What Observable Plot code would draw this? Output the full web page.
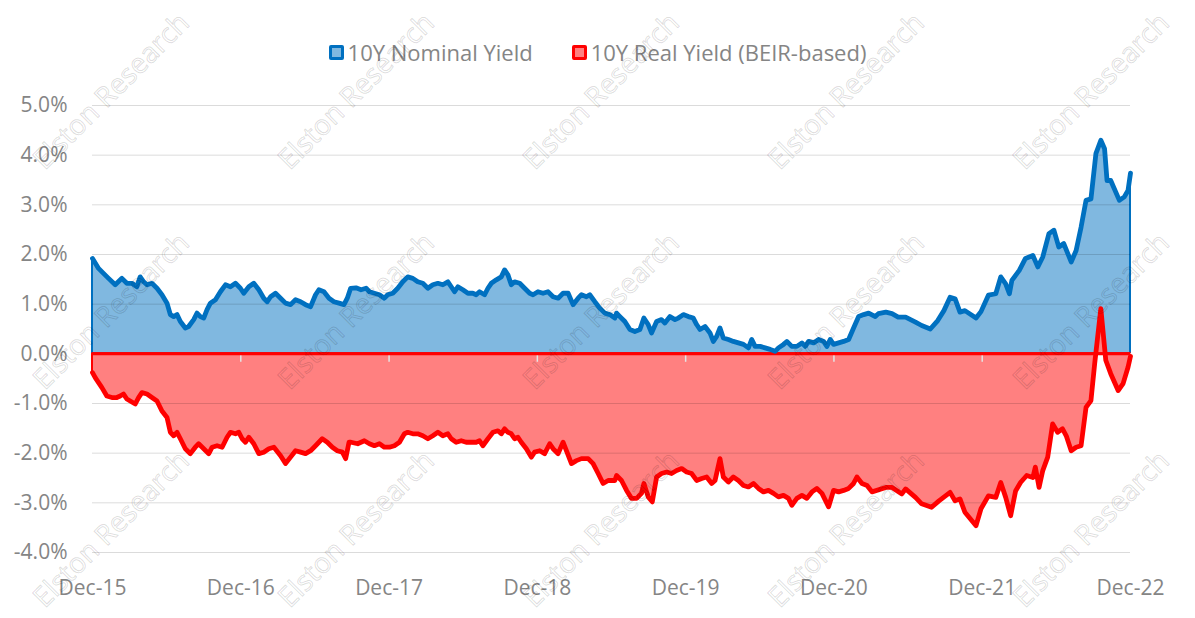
<!DOCTYPE html>
<html>
<head>
<meta charset="utf-8">
<script src="https://cdn.jsdelivr.net/npm/d3@7"></script>
<script src="https://cdn.jsdelivr.net/npm/@observablehq/plot@0.6"></script>
<style>
  html, body { margin: 0; padding: 0; background: #fff; }
  #wrap { position: relative; width: 1195px; height: 618px; overflow: hidden; font-family: "Open Sans", sans-serif; }
  #legend { position: absolute; top: 37px; left: 0; width: 1195px; height: 30px; display: flex; justify-content: center; align-items: center; gap: 39px; color: #858585; font-size: 22px; }
  .item { display: flex; align-items: center; }
  .sw { width: 9px; height: 9px; border: 3px solid; border-radius: 2px; margin-right: 4px; }
  #chart { position: absolute; top: 80px; left: 0; }
  #wm { position: absolute; top: 0; left: 0; width: 1195px; height: 618px; pointer-events: none; }
  .wmt { position: absolute; white-space: nowrap; font-size: 28px; color: transparent; -webkit-text-stroke: 1px rgba(0,0,0,0.14); transform: translate(-50%, -50%) rotate(-45deg); }
</style>
</head>
<body>
<div id="wrap">
  <div id="legend"></div>
  <div id="chart"></div>
  <div id="wm"></div>
</div>
<script>
// x = months since Dec-15, y = yield in %
const tickMonths = [0, 12, 24, 36, 48, 60, 72, 84];
const tickLabels = ["Dec-15", "Dec-16", "Dec-17", "Dec-18", "Dec-19", "Dec-20", "Dec-21", "Dec-22"];
const yTicks = [-4, -3, -2, -1, 0, 1, 2, 3, 4, 5];
const seriesNames = ["10Y Nominal Yield", "10Y Real Yield (BEIR-based)"];

const nominalYield = [
  [0,1.92],[0.49,1.72],[0.89,1.62],[1.30,1.52],[1.84,1.39],[2.38,1.52],[2.78,1.42],[3.19,1.42],[3.59,1.35],[3.86,1.55],
  [4.14,1.45],[4.41,1.39],[4.81,1.42],[5.22,1.32],[5.62,1.19],[6.03,1.02],[6.30,0.79],[6.57,0.75],[6.84,0.79],[7.11,0.65],
  [7.51,0.52],[7.78,0.55],[8.19,0.69],[8.46,0.82],[8.73,0.75],[9.0,0.72],[9.27,0.89],[9.54,1.02],[9.95,1.09],[10.35,1.25],
  [10.76,1.39],[11.16,1.35],[11.57,1.42],[11.97,1.32],[12.24,1.22],[12.65,1.35],[13.05,1.42],[13.46,1.29],[13.86,1.12],[14.14,1.05],
  [14.41,1.15],[14.81,1.22],[15.22,1.12],[15.62,1.02],[16.03,0.99],[16.43,1.09],[16.84,1.05],[17.24,0.99],[17.65,0.95],[18.05,1.19],
  [18.32,1.29],[18.73,1.25],[19.14,1.12],[19.54,1.05],[19.95,1.02],[20.35,0.99],[20.62,1.12],[20.89,1.32],
  [21.32,1.33],[21.73,1.29],[22.14,1.32],[22.41,1.25],[22.81,1.22],[23.22,1.19],[23.62,1.12],[23.89,1.19],[24.30,1.22],[24.70,1.32],
  [25.11,1.45],[25.51,1.55],[25.92,1.52],[26.32,1.45],[26.73,1.42],[27.14,1.32],[27.54,1.39],[27.95,1.42],[28.35,1.39],[28.76,1.45],
  [29.03,1.35],[29.30,1.25],[29.57,1.35],[29.97,1.29],[30.38,1.22],[30.78,1.22],[31.05,1.19],[31.32,1.25],[31.73,1.19],[32.0,1.32],
  [32.27,1.42],[32.68,1.49],[33.08,1.55],[33.35,1.69],[33.62,1.59],[33.89,1.39],[34.16,1.45],[34.57,1.42],[34.97,1.32],[35.38,1.22],
  [35.65,1.19],[36.05,1.25],[36.46,1.22],[36.86,1.25],[37.27,1.15],[37.68,1.12],[38.08,1.22],[38.49,1.22],[38.89,0.99],[39.30,1.12],
  [39.57,1.19],[39.97,1.15],[40.24,1.19],[40.65,1.05],[41.05,0.92],[41.46,0.82],[41.86,0.79],[42.27,0.72],
  [42.41,0.82],[42.68,0.75],[43.08,0.65],[43.49,0.49],[43.89,0.45],[44.30,0.49],[44.62,0.72],[44.97,0.59],[45.24,0.42],[45.65,0.65],
  [46.05,0.69],[46.32,0.62],[46.73,0.75],[47.14,0.69],[47.41,0.72],[47.81,0.79],[48.22,0.75],[48.62,0.72],[48.89,0.59],[49.16,0.49],
  [49.57,0.55],[49.97,0.42],[50.24,0.25],[50.51,0.35],[50.78,0.52],[51.05,0.32],[51.46,0.29],[51.86,0.25],[52.27,0.22],[52.68,0.19],
  [53.08,0.12],[53.35,0.29],[53.62,0.15],[54.03,0.15],[54.43,0.12],[54.84,0.09],[55.24,0.05],[55.51,0.12],[55.92,0.19],[56.19,0.25],
  [56.59,0.15],[57.0,0.15],[57.41,0.22],[57.68,0.15],[57.95,0.25],[58.35,0.22],[58.76,0.29],[59.16,0.25],[59.43,0.15],[59.70,0.29],
  [59.97,0.19],[60.38,0.22],[60.78,0.25],[61.19,0.29],[61.59,0.52],[62.0,0.75],[62.41,0.79],[62.81,0.82],[63.35,0.75],
  [63.6,0.81],[64.2,0.84],[64.7,0.81],[65.2,0.74],[65.8,0.74],[66.6,0.64],[67.1,0.57],[67.8,0.50],[68.4,0.67],[68.9,0.87],
  [69.4,1.14],[69.8,1.11],[70.2,0.84],[70.6,0.87],[71.5,0.72],[71.9,0.85],[72.5,1.18],[73.1,1.21],[73.5,1.55],[73.9,1.41],
  [74.2,1.21],[74.4,1.48],[75.0,1.68],[75.5,1.92],[76.1,1.98],[76.5,1.75],[76.9,1.95],[77.4,2.42],[77.8,2.49],[78.2,2.15],
  [78.6,2.22],[79.2,1.85],[79.6,2.08],[80.0,2.55],[80.4,3.09],[80.8,3.12],[81.2,4.03],[81.6,4.30],[81.9,4.13],[82.1,3.49],
  [82.4,3.49],[83.1,3.09],[83.5,3.16],[83.8,3.29],[84.0,3.64]
];

const realYield = [
  [0,-0.38],[0.22,-0.48],[0.49,-0.58],[0.76,-0.68],[1.16,-0.85],[1.57,-0.88],[1.97,-0.88],[2.24,-0.85],[2.51,-0.81],[2.78,-0.91],
  [3.05,-0.95],[3.46,-1.01],[3.73,-0.88],[4.0,-0.78],[4.41,-0.81],[4.81,-0.88],[5.22,-0.95],[5.62,-1.15],[6.03,-1.28],[6.30,-1.58],
  [6.57,-1.65],[6.84,-1.58],[7.11,-1.71],[7.51,-1.91],[7.92,-2.01],[8.32,-1.88],[8.59,-1.81],[9.0,-1.91],[9.41,-2.01],[9.68,-1.88],
  [10.08,-1.85],[10.49,-1.88],[10.89,-1.68],[11.16,-1.58],[11.57,-1.61],[11.84,-1.58],[12.11,-1.71],[12.38,-1.78],[12.65,-1.68],[13.05,-1.81],
  [13.46,-2.01],[13.86,-1.98],[14.27,-1.91],[14.68,-1.88],[15.22,-2.05],[15.62,-2.21],[16.03,-2.08],[16.43,-1.95],[16.84,-1.98],[17.24,-2.01],
  [17.65,-1.95],[18.05,-1.85],[18.59,-1.71],[19.0,-1.78],[19.41,-1.88],[19.81,-1.95],[20.22,-1.98],[20.49,-2.11],[20.76,-1.78],
  [20.92,-1.78],[21.46,-1.81],[22.0,-1.75],[22.41,-1.81],[22.81,-1.85],[23.22,-1.81],[23.62,-1.88],[24.03,-1.88],[24.43,-1.85],[24.84,-1.78],
  [25.24,-1.61],[25.51,-1.58],[25.92,-1.61],[26.32,-1.61],[26.73,-1.65],[27.14,-1.71],[27.54,-1.65],[27.95,-1.58],[28.35,-1.65],[28.76,-1.61],
  [29.03,-1.71],[29.43,-1.78],[29.84,-1.75],[30.24,-1.78],[30.65,-1.78],[31.05,-1.78],[31.32,-1.75],[31.59,-1.85],[32.0,-1.71],[32.41,-1.58],
  [32.81,-1.55],[33.08,-1.61],[33.35,-1.51],[33.62,-1.58],[33.89,-1.61],[34.16,-1.71],[34.43,-1.68],[34.70,-1.78],[35.11,-1.91],[35.51,-2.08],
  [35.78,-1.98],[36.19,-1.95],[36.59,-2.01],[37.0,-1.81],[37.27,-1.91],[37.68,-2.01],[38.08,-1.78],[38.35,-1.95],[38.76,-2.21],[39.16,-2.15],
  [39.57,-2.11],[40.11,-2.11],[40.51,-2.21],[40.92,-2.41],[41.32,-2.61],[41.73,-2.55],[42.27,-2.55],
  [42.41,-2.45],[42.81,-2.55],[43.22,-2.75],[43.62,-2.91],[44.03,-2.91],[44.43,-2.81],[44.62,-2.61],[44.97,-2.88],[45.3,-2.98],[45.65,-2.48],
  [46.05,-2.41],[46.46,-2.38],[46.86,-2.41],[47.27,-2.35],[47.68,-2.31],[48.08,-2.38],[48.49,-2.41],[48.89,-2.55],[49.30,-2.51],[49.70,-2.48],
  [50.11,-2.61],[50.38,-2.55],[50.78,-2.11],[51.05,-2.48],[51.46,-2.58],[51.86,-2.48],[52.27,-2.55],[52.68,-2.65],[53.08,-2.68],[53.49,-2.61],
  [53.89,-2.71],[54.30,-2.78],[54.70,-2.75],[55.11,-2.81],[55.51,-2.88],[55.92,-2.85],[56.32,-2.91],[56.59,-3.05],[57.0,-2.91],[57.41,-2.85],
  [57.81,-2.91],[58.22,-2.78],[58.62,-2.71],[59.03,-2.81],[59.57,-3.08],[59.97,-2.75],[60.38,-2.78],[60.78,-2.75],[61.19,-2.71],[61.59,-2.61],
  [61.86,-2.48],[62.27,-2.61],[62.68,-2.65],[63.08,-2.78],
  [64.2,-2.69],[64.7,-2.69],[65.5,-2.82],[65.8,-2.72],[66.6,-2.89],[67.1,-3.02],[67.9,-3.09],[68.5,-2.96],[69.4,-2.79],[69.8,-2.96],
  [70.2,-2.92],[70.6,-3.19],[71.5,-3.46],[71.9,-3.12],[72.5,-2.86],[73.1,-2.89],[73.5,-2.59],[73.9,-2.89],[74.3,-3.26],[74.7,-2.76],
  [75.1,-2.59],[75.6,-2.45],[76.1,-2.49],[76.3,-2.28],[76.6,-2.69],[76.9,-2.35],[77.3,-2.08],[77.7,-1.41],[78.1,-1.58],[78.5,-1.51],
  [78.8,-1.65],[79.2,-1.95],[79.6,-1.88],[80.0,-1.85],[80.4,-1.08],[80.8,-0.94],[81.1,-0.20],[81.6,0.91],[82.0,-0.13],[82.4,-0.40],
  [83.0,-0.74],[83.4,-0.60],[83.8,-0.27],[84.0,-0.05]
];

const blue = "#0070c0", blueFill = "#80b8e0";
const red = "#ff0000", redFill = "#ff8080";

// legend
const legend = document.getElementById("legend");
[[seriesNames[0], blue, blueFill], [seriesNames[1], red, redFill]].forEach(([name, c, f]) => {
  const it = document.createElement("div"); it.className = "item";
  const sw = document.createElement("div"); sw.className = "sw";
  sw.style.borderColor = c; sw.style.background = f;
  const tx = document.createElement("span"); tx.textContent = name;
  it.appendChild(sw); it.appendChild(tx); legend.appendChild(it);
});

const X = d => d[0], Y = d => d[1];

const chart = Plot.plot({
  width: 1195,
  height: 538,
  marginLeft: 92,
  marginRight: 65,
  marginTop: 25,
  marginBottom: 66,
  style: { fontFamily: "Open Sans, sans-serif", fontSize: "21px", color: "#858585", background: "transparent", overflow: "visible" },
  x: { domain: [0, 84], ticks: tickMonths, tickFormat: d => tickLabels[tickMonths.indexOf(d)], tickSize: 0, tickPadding: 28, label: null },
  y: { domain: [-4, 5], ticks: yTicks, tickFormat: d => d.toFixed(1) + "%", tickSize: 0, tickPadding: 25, label: null },
  marks: [
    Plot.areaY(nominalYield, { x: X, y: Y, fill: blueFill, stroke: blue, strokeWidth: 2 }),
    Plot.areaY(realYield, { x: X, y: Y, fill: redFill, stroke: red, strokeWidth: 2 }),
    Plot.gridY(yTicks, { stroke: "#000", strokeOpacity: 0.14, strokeWidth: 1 }),
    Plot.ruleX(tickMonths.slice(1), { y1: 0, y2: -0.17, stroke: "#e4e4e4", strokeWidth: 1.5 }),
    Plot.ruleY([0], { stroke: red, strokeWidth: 3 }),
    Plot.lineY(nominalYield, { x: X, y: Y, stroke: blue, strokeWidth: 4.8, strokeLinejoin: "round", strokeLinecap: "round" }),
    Plot.lineY(realYield, { x: X, y: Y, stroke: red, strokeWidth: 4.8, strokeLinejoin: "round", strokeLinecap: "round" })
  ]
});
document.getElementById("chart").appendChild(chart);

// watermark
const wm = document.getElementById("wm");
const wmRows = [90, 310, 528];
const wmCols = [110, 355, 600, 845, 1090];
wmRows.forEach(y => wmCols.forEach(x => {
  const s = document.createElement("div"); s.className = "wmt";
  s.textContent = "Elston Research";
  s.style.left = x + "px"; s.style.top = y + "px";
  wm.appendChild(s);
}));
</script>
</body>
</html>
